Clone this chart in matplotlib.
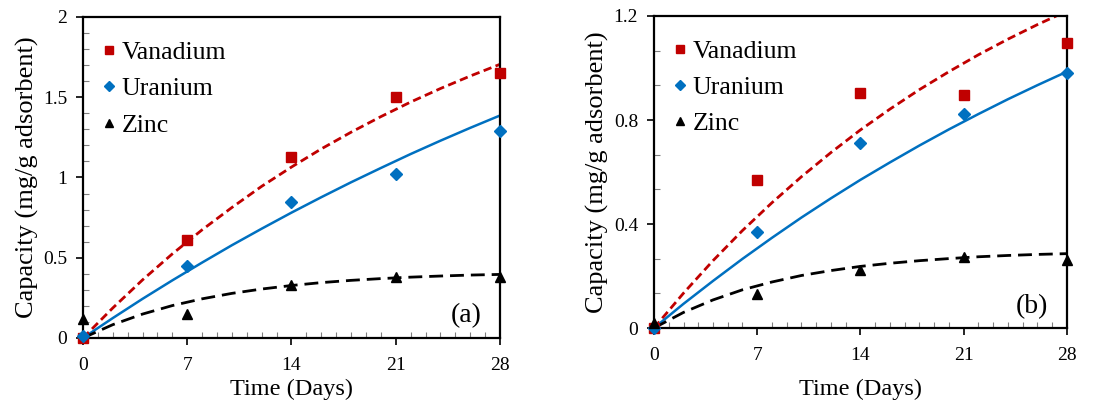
import numpy as np
import matplotlib
matplotlib.use("Agg")
import matplotlib.pyplot as plt
from matplotlib.ticker import FormatStrFormatter, MultipleLocator

plt.rcParams['font.family'] = ['Liberation Serif', 'DejaVu Serif']

# measured points (days)
days = [0, 7, 14, 21, 28]
vana_a = [0.0, 0.61, 1.13, 1.50, 1.65]
uran_a = [0.01, 0.45, 0.85, 1.02, 1.29]
zinc_a = [0.12, 0.15, 0.33, 0.38, 0.38]
vana_b = [0.0, 0.57, 0.905, 0.895, 1.097]
uran_b = [0.0, 0.37, 0.71, 0.825, 0.98]
zinc_b = [0.02, 0.132, 0.222, 0.273, 0.262]

# fitted curves
fit_days = [0, 2, 4, 6, 8, 10, 12, 14, 16, 18, 20, 22, 24, 26, 28]
vfit_a = [0, 0.187, 0.362, 0.524, 0.674, 0.813, 0.945, 1.065, 1.178, 1.282, 1.379, 1.470, 1.554, 1.632, 1.705]
ufit_a = [0, 0.124, 0.244, 0.359, 0.470, 0.578, 0.681, 0.781, 0.877, 0.970, 1.059, 1.146, 1.229, 1.309, 1.386]
zfit_a = [0, 0.083, 0.149, 0.202, 0.244, 0.278, 0.305, 0.327, 0.345, 0.359, 0.370, 0.379, 0.386, 0.392, 0.396]
vfit_b = [0, 0.134, 0.259, 0.375, 0.482, 0.582, 0.675, 0.762, 0.842, 0.917, 0.986, 1.051, 1.111, 1.167, 1.219]
ufit_b = [0, 0.093, 0.181, 0.266, 0.347, 0.425, 0.499, 0.570, 0.637, 0.702, 0.764, 0.823, 0.880, 0.934, 0.986]
zfit_b = [0, 0.060, 0.108, 0.147, 0.177, 0.202, 0.221, 0.237, 0.249, 0.259, 0.267, 0.274, 0.279, 0.283, 0.286]

red = '#C00000'
blue = '#0070C0'

fig = plt.figure(figsize=(11.17, 4.04), dpi=100)
ax1 = fig.add_axes([0.0743, 0.1634, 0.3733, 0.7946])
ax2 = fig.add_axes([0.5855, 0.1881, 0.3697, 0.7723])


def panel(ax, v, u, z, vf, uf, zf, ymax, ystep, yminor, tag, xpad):
	ax.plot(fit_days, vf, color=red, lw=2.0, ls=(0, (3, 1.6)))
	ax.plot(fit_days, uf, color=blue, lw=1.8)
	ax.plot(fit_days, zf, color='black', lw=2.0, ls=(0, (5, 2.5)))
	ax.plot(days, v, 's', color=red, ms=7.5, label="Vanadium", clip_on=False, zorder=5)
	ax.plot(days, u, 'D', color=blue, ms=6.5, label="Uranium", clip_on=False, zorder=5)
	ax.plot(days, z, '^', color='black', ms=7.5, label="Zinc", clip_on=False, zorder=5)
	ax.set_xlim(0, 28)
	ax.set_ylim(0, ymax)
	ax.xaxis.set_major_locator(MultipleLocator(7))
	ax.xaxis.set_minor_locator(MultipleLocator(1))
	ax.yaxis.set_major_locator(MultipleLocator(ystep))
	ax.yaxis.set_minor_locator(MultipleLocator(yminor))
	ax.yaxis.set_major_formatter(FormatStrFormatter('%g'))
	ax.tick_params(which='major', direction='out', length=5, width=1.2, labelsize=14)
	ax.tick_params(axis='x', which='major', pad=8.5)
	ax.tick_params(axis='y', which='major', pad=6.5)
	ax.tick_params(which='minor', direction='in', length=4, width=0.8, color='#808080')
	for s in ax.spines.values():
		s.set_linewidth(1.6)
	ax.set_xlabel("Time (Days)", fontsize=17.5, labelpad=xpad)
	ax.set_ylabel("Capacity (mg/g adsorbent)", fontsize=19, labelpad=3)
	ax.text(0.955, 0.03, tag, transform=ax.transAxes, fontsize=20, ha='right', va='bottom')
	ax.legend(loc='upper left', bbox_to_anchor=(0, 0.965), frameon=False, fontsize=18.5,
		handletextpad=0.0, handlelength=1.0, labelspacing=0.52, borderaxespad=0.3,
		borderpad=0.2, markerscale=0.8)


panel(ax1, vana_a, uran_a, zinc_a, vfit_a, ufit_a, zfit_a, 2, 0.5, 0.1, "(a)", 3.5)
panel(ax2, vana_b, uran_b, zinc_b, vfit_b, ufit_b, zfit_b, 1.2, 0.4, 0.4 / 3, "(b)", 10.5)

plt.savefig("out.png", dpi=100)
